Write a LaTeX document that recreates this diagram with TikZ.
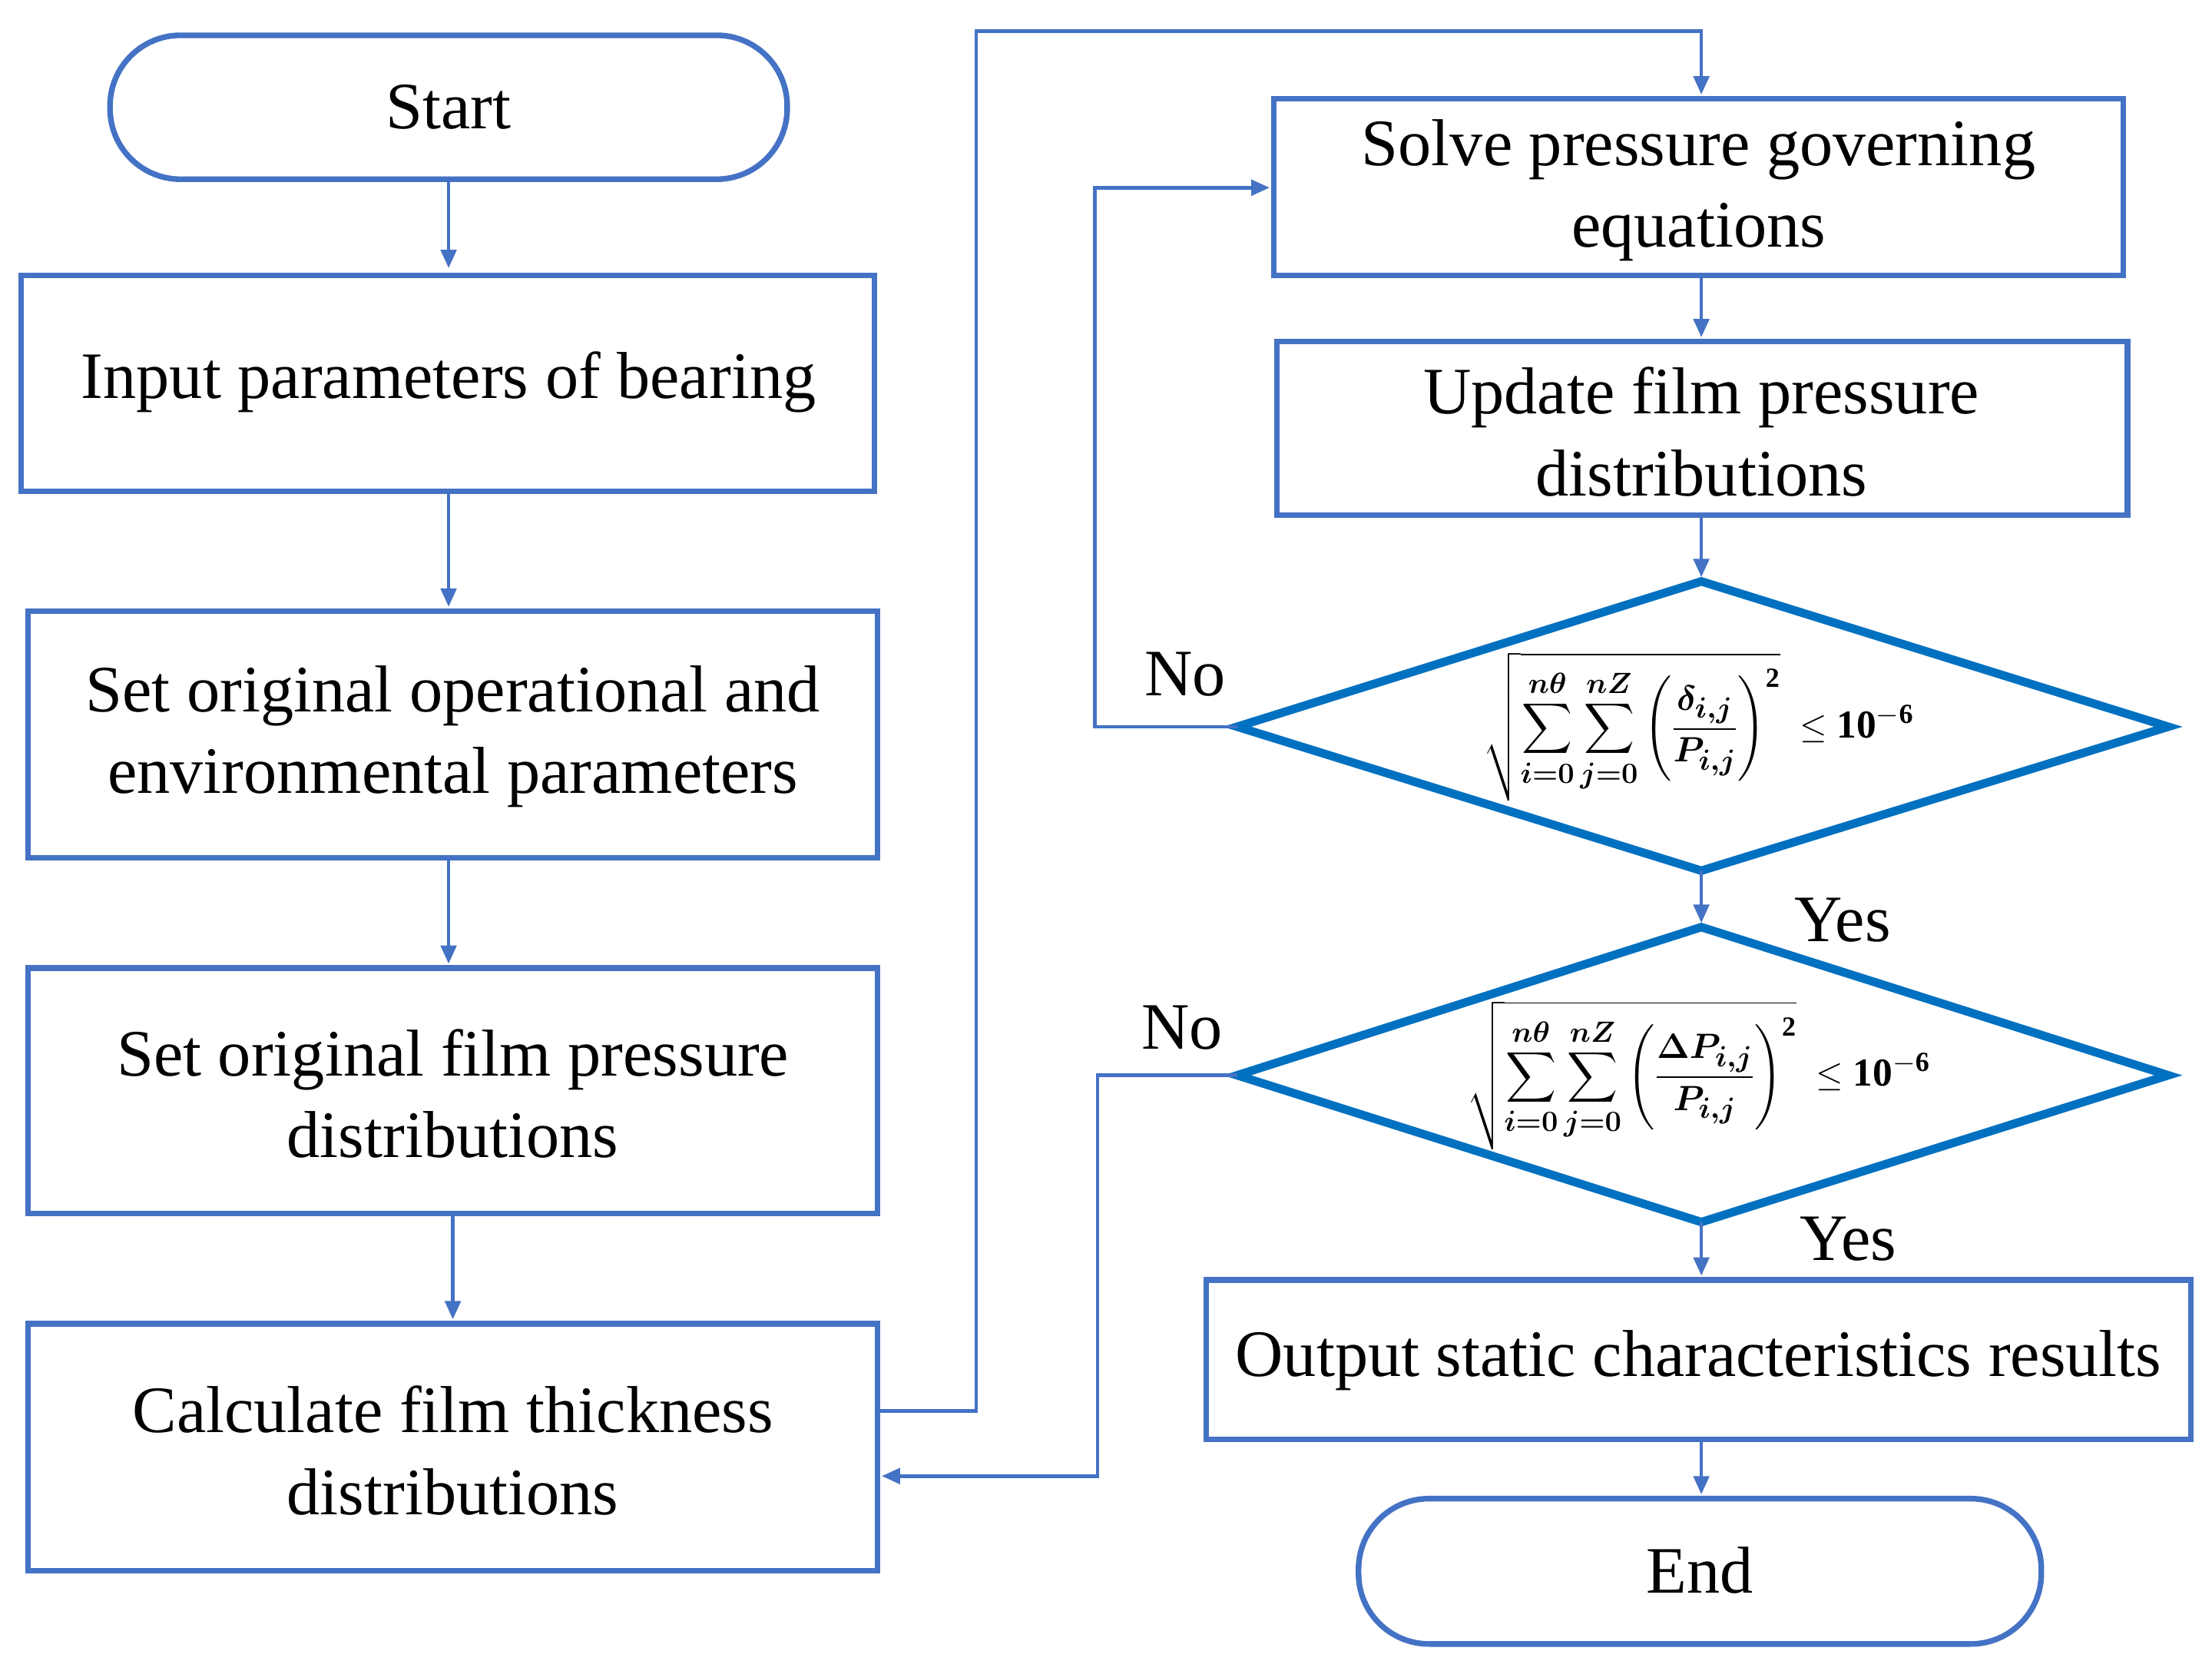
\documentclass[tikz,border=0pt]{standalone}
\usepackage{fontspec}
\setmainfont{Liberation Serif}
\usepackage{amsmath,bm}
\usetikzlibrary{arrows.meta,shapes.geometric}
\definecolor{bx}{HTML}{4472C4}
\definecolor{dm}{HTML}{0070C0}
\begin{document}
\begin{tikzpicture}[x=1pt,y=-1pt,
  box/.style={draw=bx,line width=4pt},
  term/.style={draw=bx,line width=4pt,rounded corners=50pt},
  dia/.style={draw=dm,line width=6pt},
  con/.style={draw=bx,line width=2.5pt,-{Triangle[length=13pt,width=11pt]}},
  lab/.style={align=center,font=\fontsize{47}{58}\selectfont}]
\useasboundingbox (0,0) rectangle (1568,1184);
% left column
\draw[term] (78,25) rectangle (558,127);
\node[lab] (start) at (318,76) {Start};
\draw[box] (15,195) rectangle (620,348); \node[lab] (b1) at (318,271) {Input parameters of bearing};
\draw[box] (20,433) rectangle (622,608); \node[lab] (b2) at (321,522) {Set original operational and\\environmental parameters};
\draw[box] (20,686) rectangle (622,860); \node[lab] (b3) at (321,775) {Set original film pressure\\distributions};
\draw[box] (20,938) rectangle (622,1113); \node[lab] (b4) at (321,1028) {Calculate film thickness\\distributions};
% right column
\draw[box] (903,70) rectangle (1505,195); \node[lab] (b5) at (1204,135) {Solve pressure governing\\equations};
\draw[box] (905,242) rectangle (1508,365); \node[lab] (b6) at (1206,306) {Update film pressure\\distributions};
\draw[dia] (877,515) -- (1206,412) -- (1537,515) -- (1206,617) -- cycle;
\node (d1) at (1204,515) {\fontsize{28}{32}\selectfont$\displaystyle\sqrt{\sum_{\bm{i=0}}^{\bm{n\theta}}\sum_{\bm{j=0}}^{\bm{nZ}}\left(\frac{\bm{\delta_{i,j}}}{\bm{P_{i,j}}}\right)^{\mathbf{2}}}\ \le \mathbf{10^{-6}}$};
\draw[dia] (877,762) -- (1206,657) -- (1537,762) -- (1206,866) -- cycle;
\node (d2) at (1204,762) {\fontsize{28}{32}\selectfont$\displaystyle\sqrt{\sum_{\bm{i=0}}^{\bm{n\theta}}\sum_{\bm{j=0}}^{\bm{nZ}}\left(\frac{\bm{\Delta P_{i,j}}}{\bm{P_{i,j}}}\right)^{\mathbf{2}}}\ \le \mathbf{10^{-6}}$};
\draw[box] (855,907) rectangle (1553,1020); \node[lab] (b7) at (1204,964) {Output static characteristics results};
\draw[term] (963,1062) rectangle (1447,1165); \node[lab] (end) at (1205,1113) {End};
% connectors
\draw[con] (318,127) -- (318,190);
\draw[con] (318,348) -- (318,430);
\draw[con] (318,608) -- (318,683);
\draw[con] (321,860) -- (321,935);
\draw[con] (622,1000) -- (692,1000) -- (692,22) -- (1206,22) -- (1206,67);
\draw[con] (1206,195) -- (1206,239);
\draw[con] (1206,365) -- (1206,409);
\draw[con] (1206,617) -- (1206,654);
\draw[con] (1206,866) -- (1206,904);
\draw[con] (1206,1020) -- (1206,1059);
\draw[con] (877,515) -- (776,515) -- (776,133) -- (900,133);
\draw[con] (877,762) -- (778,762) -- (778,1046) -- (625,1046);
\node[lab] at (840,478) {No};
\node[lab] at (838,728) {No};
\node[lab] at (1306,652) {Yes};
\node[lab] at (1310,878) {Yes};
\end{tikzpicture}
\end{document}
